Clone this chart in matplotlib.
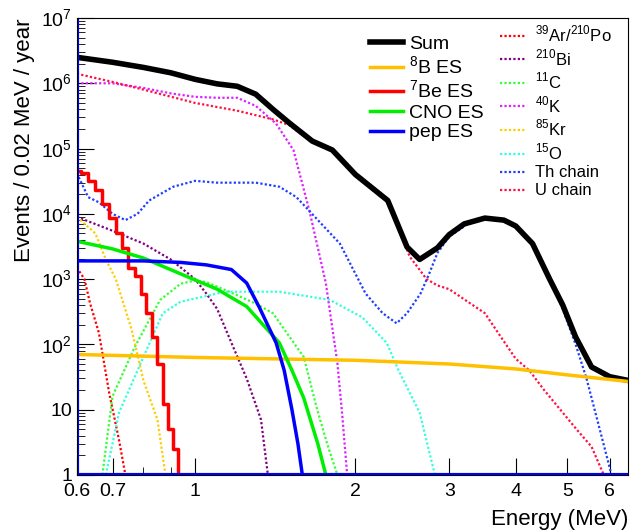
import numpy as np
import matplotlib.pyplot as plt
from matplotlib.ticker import FixedLocator, NullFormatter, LogLocator

plt.rcParams['font.family'] = ['Liberation Sans', 'DejaVu Sans']
plt.rcParams['mathtext.fontset'] = 'custom'
plt.rcParams['mathtext.rm'] = 'Liberation Sans'

# values (energy in MeV, events / 0.02 MeV / year)
sum_e = [0.6, 0.7, 0.8, 0.9, 1.0, 1.1, 1.2, 1.3, 1.4, 1.5, 1.66, 1.81, 2.0, 2.3, 2.5, 2.64, 2.85, 3.0, 3.2, 3.5, 3.8, 4.0, 4.3, 4.63, 4.9, 5.18, 5.55, 6.0, 6.5]
sum_v = [2.5e6, 2.1e6, 1.75e6, 1.45e6, 1.15e6, 9.8e5, 9e5, 6.8e5, 4e5, 2.5e5, 1.3e5, 9.5e4, 4e4, 1.6e4, 3.1e3, 2e3, 3e3, 4.8e3, 7e3, 8.6e3, 8e3, 6.5e3, 3.5e3, 1e3, 4e2, 1.3e2, 45, 32, 28]

b8_e = [0.6, 1.0, 2.0, 3.0, 4.0, 5.0, 6.5]
b8_v = [70, 63, 57, 50, 42, 34, 27]

be7_e = [0.6, 0.62, 0.64, 0.66, 0.68, 0.70, 0.72, 0.74, 0.76, 0.78, 0.80, 0.82, 0.84, 0.86, 0.88, 0.90, 0.92, 0.94]
be7_v = [4.5e4, 4.2e4, 3.2e4, 2.3e4, 1.4e4, 8.5e3, 5e3, 3e3, 1.5e3, 1.1e3, 6e2, 3e2, 1.3e2, 50, 12, 5, 2.5, 1]

cno_e = [0.6, 0.7, 0.8, 0.94, 1.1, 1.25, 1.44, 1.52, 1.6, 1.7, 1.76]
cno_v = [3.8e3, 2.9e3, 2.1e3, 1.2e3, 700, 380, 105, 40, 15, 3, 1]

pep_e = [0.6, 0.8, 0.94, 1.05, 1.17, 1.25, 1.32, 1.42, 1.47, 1.52, 1.56, 1.59]
pep_v = [1.9e3, 1.9e3, 1.8e3, 1.65e3, 1.4e3, 870, 370, 105, 40, 10, 3, 1]

arpo_e = [0.6, 0.62, 0.635, 0.66, 0.69, 0.72, 0.74]
arpo_v = [1.5e3, 1e3, 430, 150, 18, 3.4, 1]

bi210_e = [0.6, 0.7, 0.8, 0.9, 1.0, 1.05, 1.1, 1.18, 1.25, 1.33, 1.37]
bi210_v = [9e3, 5.5e3, 3.5e3, 2e3, 1e3, 6e2, 3.5e2, 90, 30, 7, 1]

c11_e = [0.67, 0.70, 0.77, 0.86, 0.94, 1.0, 1.05, 1.17, 1.3, 1.4, 1.6, 1.69, 1.77, 1.85]
c11_v = [1, 16, 90, 480, 850, 950, 900, 620, 420, 300, 64, 11, 3, 1]

k40_e = [0.6, 0.7, 0.8, 0.9, 1.0, 1.1, 1.2, 1.3, 1.42, 1.53, 1.64, 1.76, 1.85, 1.89, 1.93]
k40_v = [1.0e6, 1.0e6, 8.5e5, 7e5, 6.2e5, 6e5, 6e5, 4.5e5, 2.4e5, 9.5e4, 1.1e4, 870, 52, 8, 1]

kr85_e = [0.6, 0.65, 0.68, 0.71, 0.76, 0.80, 0.85, 0.88]
kr85_v = [9e3, 5e3, 2e3, 1e3, 170, 28, 7, 1]

o15_e = [0.68, 0.72, 0.80, 0.87, 0.94, 1.14, 1.44, 1.79, 2.06, 2.29, 2.41, 2.64, 2.82]
o15_v = [1, 9, 64, 300, 450, 640, 640, 480, 260, 105, 40, 9, 1]

th_e = [0.6, 0.63, 0.66, 0.7, 0.74, 0.78, 0.82, 0.91, 1.0, 1.1, 1.2, 1.3, 1.44, 1.55, 1.64, 1.87, 2.09, 2.25, 2.39, 2.5, 2.65, 2.75, 2.85, 3.0, 3.25, 3.5, 3.75, 4.0, 4.3, 4.63, 4.9, 5.18, 5.43, 5.8, 6.05]
th_v = [4.2e4, 1.8e4, 1.5e4, 1e4, 8e3, 1e4, 1.6e4, 2.6e4, 3.2e4, 3e4, 3e4, 3e4, 2.6e4, 1.8e4, 1.1e4, 3.5e3, 6e2, 300, 210, 300, 600, 1.2e3, 2.5e3, 4.5e3, 7e3, 8.3e3, 8e3, 6.3e3, 3.4e3, 1e3, 3.5e2, 1e2, 30, 3.8, 1]

u_e = [0.6, 0.7, 0.8, 1.0, 1.2, 1.4, 1.5, 1.66, 1.81, 2.0, 2.3, 2.53, 2.72, 2.85, 3.0, 3.25, 3.5, 3.75, 4.0, 4.24, 4.52, 4.9, 5.2, 5.55, 5.85]
u_v = [1.4e6, 1.05e6, 8e5, 5e5, 3.8e5, 2.8e5, 2.3e5, 1.25e5, 9e4, 3.8e4, 1.5e4, 2.2e3, 1e3, 800, 700, 450, 300, 130, 60, 40, 20, 9, 5, 2.7, 1]

fig = plt.figure(figsize=(6.3, 5.3), dpi=100)
ax = fig.add_axes([0.122, 0.104, 0.875, 0.862])

dot = (0, (1, 1))
thin = [
    (arpo_e, arpo_v, '#ff0000', r'$^{39}$Ar/$^{210}$Po'),
    (bi210_e, bi210_v, '#800080', r'$^{210}$Bi'),
    (c11_e, c11_v, '#33ff33', r'$^{11}$C'),
    (k40_e, k40_v, '#dd22ff', r'$^{40}$K'),
    (kr85_e, kr85_v, '#ffcc00', r'$^{85}$Kr'),
    (o15_e, o15_v, '#33ffdd', r'$^{15}$O'),
    (th_e, th_v, '#1f3fff', 'Th chain'),
    (u_e, u_v, '#ff1144', 'U chain'),
]
thin_handles = []
for e, v, c, lab in thin:
    h, = ax.plot(e, v, color=c, ls=dot, lw=1.6, label=lab)
    thin_handles.append(h)

thick = [
    (sum_e, sum_v, 'black', 'Sum', 4, 'default'),
    (b8_e, b8_v, '#ffc000', r'$^{8}$B ES', 2.5, 'default'),
    (be7_e, be7_v, '#ff0000', r'$^{7}$Be ES', 2.5, 'steps-mid'),
    (cno_e, cno_v, '#00ee00', 'CNO ES', 2.5, 'default'),
    (pep_e, pep_v, '#0000ff', 'pep ES', 2.5, 'default'),
]
thick_handles = []
for e, v, c, lab, lw, ds in thick:
    h, = ax.plot(e, v, color=c, lw=lw, drawstyle=ds, label=lab)
    thick_handles.append(h)

ax.axvline(0.6, color='#0000ff', lw=3)
ax.axhline(1, color='#0000ff', lw=3)

ax.set_xscale('log')
ax.set_yscale('log')
ax.set_xlim(0.6, 6.5)
ax.set_ylim(1, 1e7)
for s in ax.spines.values():
    s.set_linewidth(0.8)

ax.xaxis.set_major_locator(FixedLocator([0.6, 0.7, 1, 2, 3, 4, 5, 6]))
ax.xaxis.set_minor_locator(FixedLocator([0.8, 0.9]))
ax.xaxis.set_minor_formatter(NullFormatter())
ax.set_xticklabels(['0.6', '0.7', '1', '2', '3', '4', '5', '6'])
ax.yaxis.set_major_locator(FixedLocator([1, 10, 1e2, 1e3, 1e4, 1e5, 1e6, 1e7]))
ax.set_yticklabels(['1', '10', r'$10^2$', r'$10^3$', r'$10^4$', r'$10^5$', r'$10^6$', r'$10^7$'])
ax.yaxis.set_minor_locator(LogLocator(base=10, subs=np.arange(2, 10)))
ax.yaxis.set_minor_formatter(NullFormatter())
ax.tick_params(which='both', direction='in', labelsize=14, top=False, right=False)
ax.tick_params(axis='x', pad=6)
ax.tick_params(which='major', length=12)
ax.tick_params(which='minor', length=6)

ax.set_ylabel('Events / 0.02 MeV / year', fontsize=16, loc='top')
ax.set_xlabel('Energy (MeV)', fontsize=16, loc='right', labelpad=6)

leg1 = ax.legend(handles=thick_handles, loc='upper left', bbox_to_anchor=(0.5, 1.0),
                 frameon=False, fontsize=14, handlelength=1.7, labelspacing=0.1,
                 handletextpad=0.3)
ax.add_artist(leg1)
ax.legend(handles=thin_handles, loc='upper left', bbox_to_anchor=(0.74, 1.02),
          frameon=False, fontsize=12, handlelength=1.6, labelspacing=0.18,
          handletextpad=0.5)

plt.savefig('out.png', dpi=100)
